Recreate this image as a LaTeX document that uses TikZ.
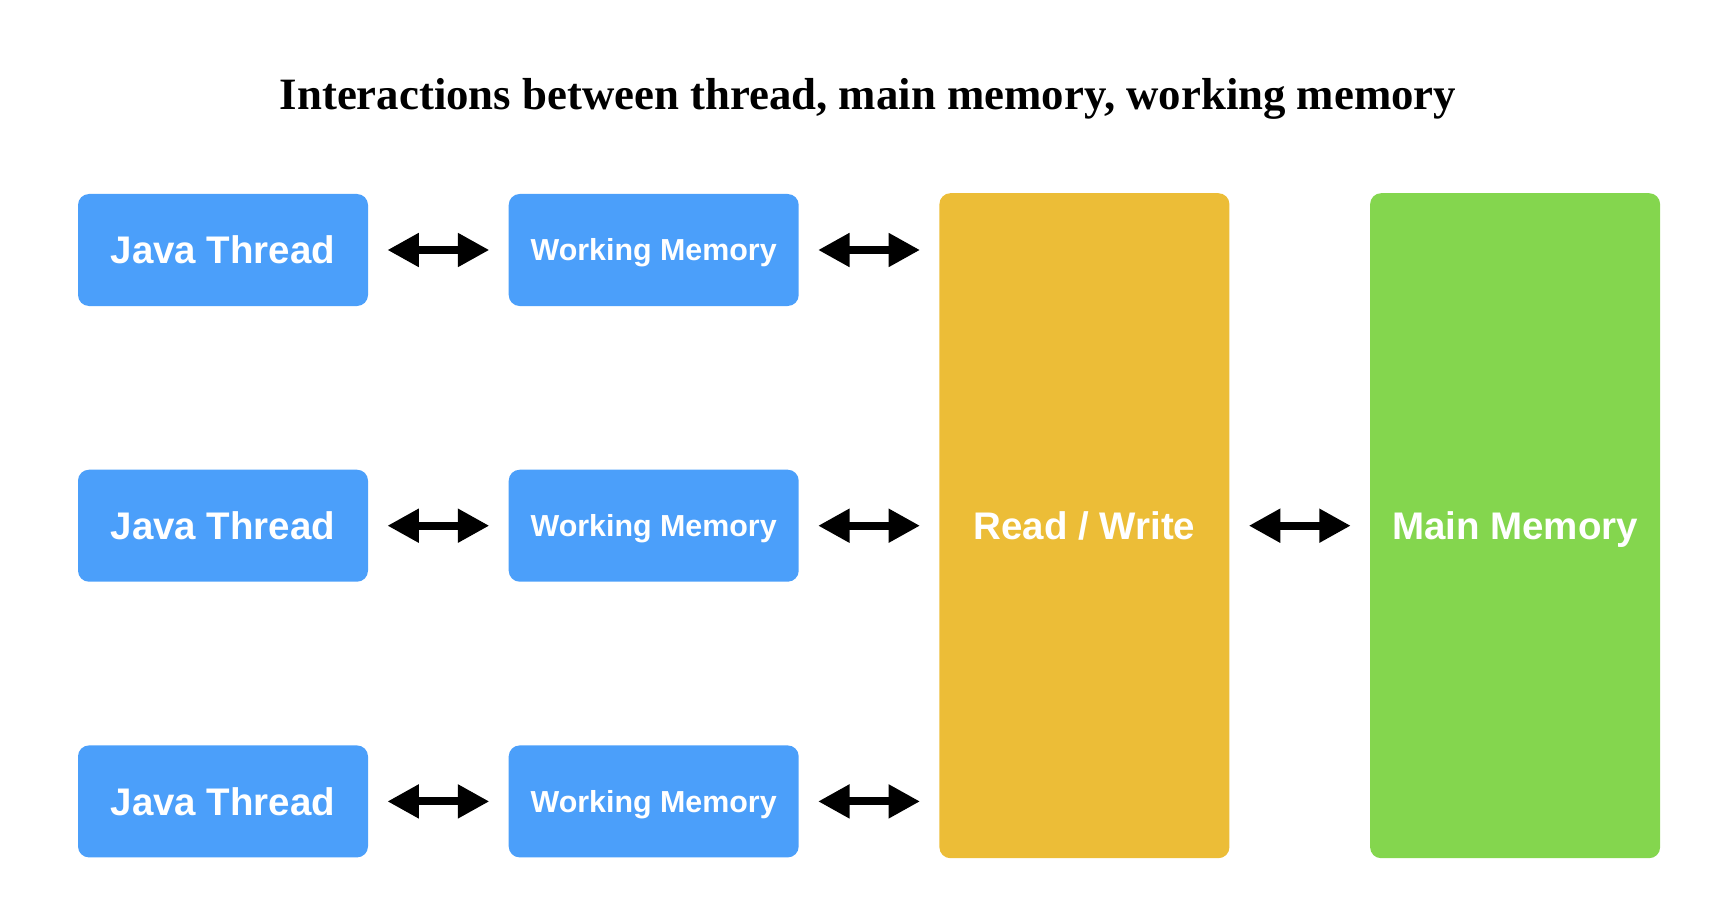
\documentclass[tikz,border=0pt]{standalone}
\usepackage{fontspec}
\setmainfont{Liberation Serif}
\newfontfamily\boxfont{Liberation Sans}
\usetikzlibrary{positioning,arrows.meta}
\definecolor{threadblue}{HTML}{4B9FFA}
\definecolor{rwyellow}{HTML}{ECBD37}
\definecolor{maingreen}{HTML}{84D64E}
\tikzset{
  membox/.style={rounded corners=0.22cm, text=white, align=center,
    minimum width=5.8cm, minimum height=2.24cm, inner sep=0pt,
    text height=15.7pt, text depth=0pt,
    font=\boxfont\bfseries\fontsize{21.9}{26}\selectfont},
  threadbox/.style={membox, fill=threadblue},
  workbox/.style={membox, fill=threadblue, text height=12.4pt,
    font=\boxfont\bfseries\fontsize{17.3}{20}\selectfont},
  rwbox/.style={membox, fill=rwyellow, minimum height=13.3cm},
  mainbox/.style={membox, fill=maingreen, minimum height=13.3cm},
  memarrow/.style={{Triangle[length=0.63cm,width=0.64cm]}-{Triangle[length=0.63cm,width=0.64cm]},
    line width=0.16cm, shorten <=0.38cm, shorten >=0.38cm},
}

\begin{document}
\begin{tikzpicture}
  \useasboundingbox (0,0) rectangle (34.36,-18.48);
  \node[anchor=base, font=\bfseries\fontsize{25.5}{30}\selectfont] (title) at (17.36,-2.2)
    {Interactions between thread, main memory, working memory};
  % threads
  \node[threadbox] (jt1) at (4.46,-5.0) {Java Thread};
  \node[threadbox, below=3.26cm of jt1] (jt2) {Java Thread};
  \node[threadbox, below=3.26cm of jt2] (jt3) {Java Thread};
  % working memories
  \node[workbox, right=2.8cm of jt1] (wm1) {Working Memory};
  \node[workbox, right=2.8cm of jt2] (wm2) {Working Memory};
  \node[workbox, right=2.8cm of jt3] (wm3) {Working Memory};
  % shared part
  \node[rwbox, right=2.8cm of wm2] (rw) {Read / Write};
  \node[mainbox, right=2.8cm of rw] (mm) {Main Memory};
  \foreach \i in {1,2,3} {
    \draw[memarrow] (jt\i) -- (wm\i);
    \draw[memarrow] (wm\i.east) -- (wm\i.east -| rw.west);
  }
  \draw[memarrow] (rw) -- (mm);
\end{tikzpicture}
\end{document}
